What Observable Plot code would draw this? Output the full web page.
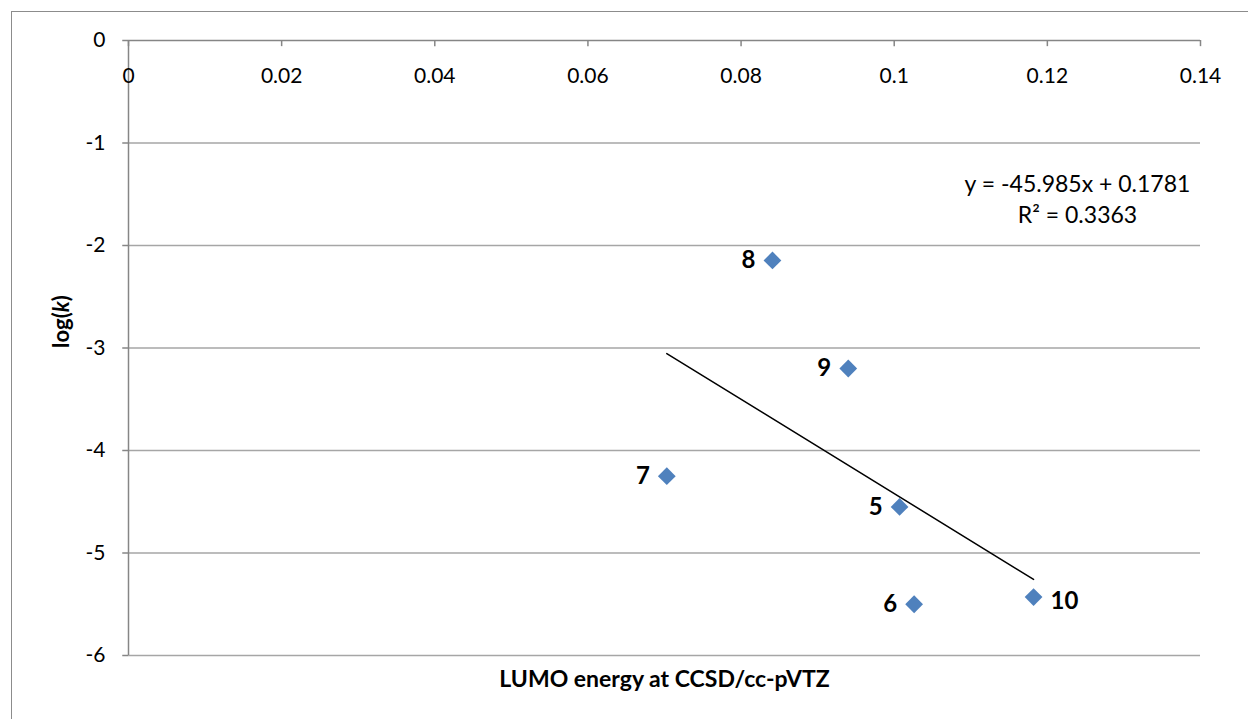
<!DOCTYPE html>
<html>
<head>
<meta charset="utf-8">
<script src="https://cdn.jsdelivr.net/npm/d3@7"></script>
<script src="https://cdn.jsdelivr.net/npm/@observablehq/plot@0.6"></script>
<style>
  html, body { margin: 0; padding: 0; background: white; overflow: hidden; }
  #wrap { position: relative; width: 1248px; height: 719px; }
  #border { position: absolute; left: 11px; top: 11px; width: 1300px; height: 800px; border: 1px solid #8c8c8c; pointer-events: none; }
  #chart { position: absolute; left: 0; top: 0; }
</style>
</head>
<body>
<div id="wrap"><div id="chart"></div><div id="border"></div></div>
<script>
// Data
const ids = ["8", "9", "7", "5", "6", "10"];
const lumo = [0.0841, 0.0940, 0.0703, 0.1007, 0.1026, 0.1182];
const logk = [-2.146, -3.20, -4.25, -4.55, -5.50, -5.43];

// Trendline (as printed on the chart)
const slope = -45.985;
const intercept = 0.1781;
const r2 = 0.3363;

// Tick labels
const xTicks = [0, 0.02, 0.04, 0.06, 0.08, 0.1, 0.12, 0.14];
const yTicks = [0, -1, -2, -3, -4, -5, -6];

const points = ids.map((id, i) => ({id, x: lumo[i], y: logk[i]}));
const xExt = d3.extent(lumo);
const trend = xExt.map(x => ({x, y: slope * x + intercept}));
const eqText = `y = ${slope}x + ${intercept}\nR² = ${r2}`;

const font = "Lato, 'Open Sans', sans-serif";

const chart = Plot.plot({
  width: 1248,
  height: 719,
  marginLeft: 128,
  marginRight: 48,
  marginTop: 40,
  marginBottom: 64,
  x: {domain: [0, 0.14], axis: null},
  y: {domain: [-6, 0], axis: null},
  style: {fontFamily: font, background: "transparent", color: "black"},
  marks: [
    Plot.ruleY(yTicks.filter(d => d !== 0), {y: d => d, stroke: "#a6a6a6", strokeWidth: 1.5}),
    Plot.ruleY([0], {y: d => d, stroke: "#868686", strokeWidth: 1.5}),
    Plot.ruleX([0], {x: d => d, y1: -6, y2: 0, stroke: "#868686", strokeWidth: 1.5}),
    Plot.ruleX(xTicks, {x: d => d, y1: 0, y2: -0.06, stroke: "#868686", strokeWidth: 1.5}),
    Plot.ruleY(yTicks, {y: d => d, x1: 0, x2: -0.00075, stroke: "#868686", strokeWidth: 1.5}),
    Plot.text(xTicks, {x: d => d, y: 0, dy: 36, text: d => String(d), fontSize: 21, fill: "black"}),
    Plot.text(yTicks, {x: 0, y: d => d, dx: -23, textAnchor: "end", text: d => String(d), fontSize: 21, fill: "black"}),
    Plot.line(trend, {x: "x", y: "y", stroke: "black", strokeWidth: 1.5}),
    Plot.dot(points, {x: "x", y: "y", symbol: "diamond2", r: 8, fill: "#4f81bd", stroke: "none"}),
    Plot.text(points.filter(d => d.id !== "10"), {x: "x", y: "y", text: "id", textAnchor: "end", dx: -17, fontSize: 24, fontWeight: "bold", fill: "black"}),
    Plot.text(points.filter(d => d.id === "10"), {x: "x", y: "y", text: "id", textAnchor: "start", dx: 17, dy: 4, fontSize: 24, fontWeight: "bold", fill: "black"}),
    Plot.text([eqText], {frameAnchor: "top-right", text: d => d, textAnchor: "middle", dx: -123, dy: 157, lineHeight: 1.35, lineAnchor: "middle", fontSize: 23, fill: "black"}),
    Plot.text(["LUMO energy at CCSD/cc-pVTZ"], {frameAnchor: "bottom", text: d => d, dy: 31, fontSize: 23, fontWeight: "bold", fill: "black"}),
    Plot.text(["log(k)"], {frameAnchor: "left", text: d => d, dx: -67, rotate: -90, fontSize: 22, fontWeight: "bold", fill: "black"})
  ]
});

// Italicize the k in the y-axis label
d3.select(chart).selectAll("text").filter(function() { return this.textContent === "log(k)"; })
  .each(function() {
    const t = d3.select(this);
    t.text(null);
    t.append("tspan").text("log(");
    t.append("tspan").attr("font-style", "italic").text("k");
    t.append("tspan").text(")");
  });

document.getElementById("chart").appendChild(chart);
</script>
</body>
</html>
